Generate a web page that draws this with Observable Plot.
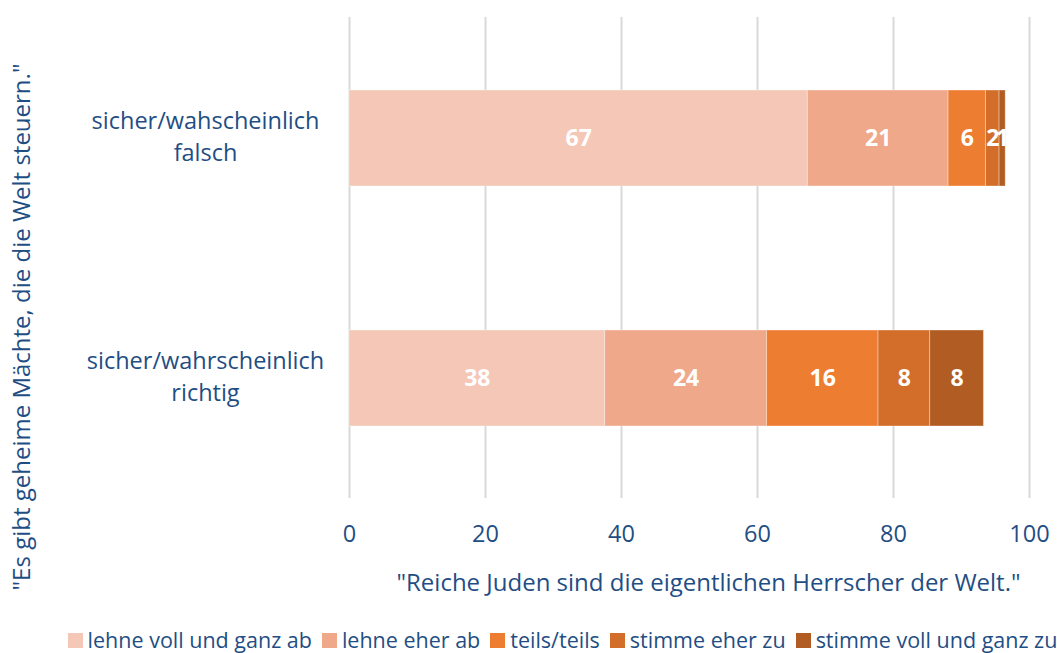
<!DOCTYPE html>
<html>
<head>
<meta charset="utf-8">
<script src="https://cdn.jsdelivr.net/npm/d3@7"></script>
<script src="https://cdn.jsdelivr.net/npm/@observablehq/plot@0.6"></script>
<style>
  html, body { margin: 0; padding: 0; background: #fff; }
  body { width: 1057px; height: 653px; overflow: hidden; font-family: "Open Sans", sans-serif; }
  #legend { display: flex; justify-content: center; align-items: center; gap: 10px; font-size: 21.5px; line-height: 26px; color: #1F4E84; margin-top: 19px; padding-left: 68px; white-space: nowrap; }
  #legend .item { display: flex; align-items: center; gap: 5px; }
  #legend .sw { width: 15px; height: 15px; display: inline-block; }
</style>
</head>
<body>
<div id="chart"></div>
<div id="legend"></div>
<script>
const categories = ["sicher/wahscheinlich\nfalsch", "sicher/wahrscheinlich\nrichtig"];
const responses = ["lehne voll und ganz ab", "lehne eher ab", "teils/teils", "stimme eher zu", "stimme voll und ganz zu"];
const valuesFalsch = [67.4, 20.7, 5.5, 2.0, 0.9];
const valuesRichtig = [37.6, 23.8, 16.4, 7.6, 7.9];
const colors = ["#F4C7B7", "#F0A88B", "#ED7D31", "#D26E2A", "#B15C22"];
const xTicks = [0, 20, 40, 60, 80, 100];
const xTitle = "\"Reiche Juden sind die eigentlichen Herrscher der Welt.\"";
const yTitle = "\"Es gibt geheime Mächte, die die Welt steuern.\"";

const textColor = "#1F4E84";
const data = [];
[valuesFalsch, valuesRichtig].forEach((vals, i) => {
  vals.forEach((v, j) => data.push({category: categories[i], response: responses[j], value: v}));
});

const chart = Plot.plot({
  width: 1057,
  height: 608,
  marginLeft: 349,
  marginRight: 28,
  marginTop: 17,
  marginBottom: 110,
  style: {fontFamily: "Open Sans, sans-serif", background: "white"},
  x: {domain: [0, 100], ticks: xTicks},
  y: {domain: categories, paddingInner: 0.602, paddingOuter: 0.3},
  color: {domain: responses, range: colors},
  marks: [
    Plot.gridX(xTicks, {stroke: "#D9D9D9", strokeOpacity: 1, strokeWidth: 2}),
    Plot.barX(data, Plot.stackX({x: "value", y: "category", fill: "response", stroke: "white", strokeOpacity: 0.35, strokeWidth: 1})),
    Plot.text(data, Plot.stackX({x: "value", y: "category", z: "response", text: d => String(Math.round(d.value)), fill: "white", fontSize: 23, fontWeight: "bold"})),
    Plot.axisX(xTicks, {tickSize: 0, tickPadding: 27, fontSize: 23.5, color: textColor, label: null}),
    Plot.axisY({tickSize: 0, tickPadding: 144, dy: -4, textAnchor: "middle", fontSize: 23.5, lineHeight: 1.36, color: textColor, label: null}),
    Plot.text([xTitle], {frameAnchor: "bottom", lineAnchor: "middle", dx: 19, dy: 85, fontSize: 24, fill: textColor}),
    Plot.text([yTitle], {frameAnchor: "left", lineAnchor: "middle", textAnchor: "middle", rotate: -90, dx: -327, dy: 69, fontSize: 24, fill: textColor})
  ]
});
document.getElementById("chart").appendChild(chart);

const legend = document.getElementById("legend");
responses.forEach((r, i) => {
  const item = document.createElement("span");
  item.className = "item";
  const sw = document.createElement("span");
  sw.className = "sw";
  sw.style.background = colors[i];
  item.appendChild(sw);
  item.appendChild(document.createTextNode(r));
  legend.appendChild(item);
});
</script>
</body>
</html>
